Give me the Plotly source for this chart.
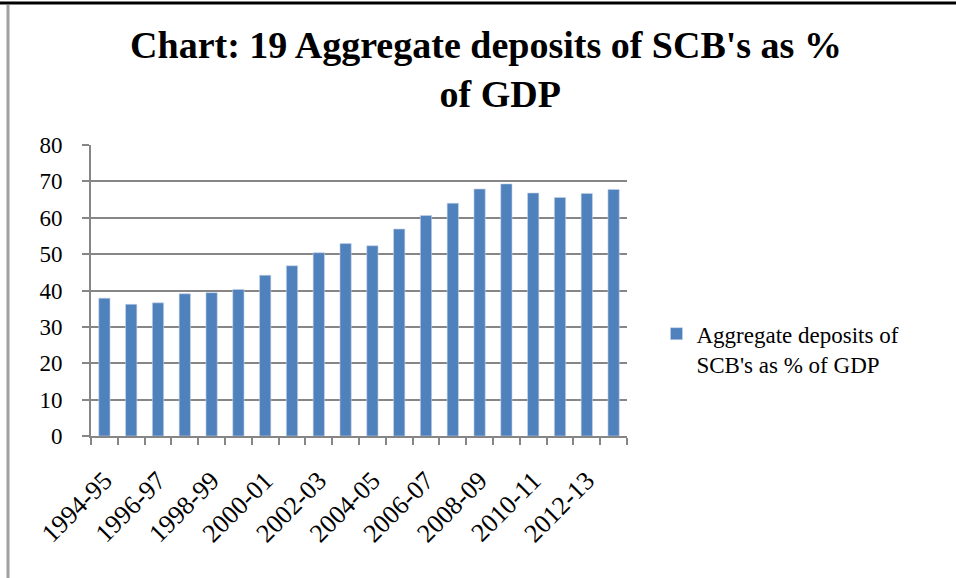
import plotly.graph_objects as go

# Aggregate deposits of scheduled commercial banks, % of GDP
years = ["1994-95", "1995-96", "1996-97", "1997-98", "1998-99", "1999-00",
         "2000-01", "2001-02", "2002-03", "2003-04", "2004-05", "2005-06",
         "2006-07", "2007-08", "2008-09", "2009-10", "2010-11", "2011-12",
         "2012-13", "2013-14"]
deposits = [37.9, 36.2, 36.6, 39.1, 39.4, 40.3, 44.2, 46.8, 50.4, 52.9,
            52.3, 56.9, 60.6, 64.0, 67.9, 69.3, 66.8, 65.6, 66.7, 67.8]
yticks = [0, 10, 20, 30, 40, 50, 60, 70, 80]

SERIF = "Liberation Serif, Times New Roman, serif"
GRID = "#868686"

pos = list(range(len(years)))
label_pos = pos[::2]
label_txt = years[::2]
bounds = [p - 0.5 for p in pos] + [pos[-1] + 0.5]

fig = go.Figure()
fig.add_trace(go.Bar(
    x=pos, y=deposits,
    name="Aggregate deposits of<br>SCB's as % of GDP",
    marker=dict(color="#4F81BD", line=dict(color="#C6D4E8", width=0.6)),
    width=0.42,
))

fig.update_layout(
    width=956, height=578,
    paper_bgcolor="white", plot_bgcolor="white",
    margin=dict(l=91, r=329, t=145, b=142),
    font=dict(family=SERIF, size=23, color="black"),
    title=dict(
        text="<b>Chart: 19 Aggregate deposits of SCB's as %<br>&nbsp;&nbsp;&nbsp;of GDP</b>",
        x=486 / 956, xanchor="center", y=1 - 58 / 578, yanchor="top",
        font=dict(family=SERIF, size=38, color="black"),
    ),
    showlegend=True,
    legend=dict(
        x=1.055, xanchor="left", y=0.30, yanchor="middle",
        valign="top", font=dict(size=23), itemwidth=30,
        bgcolor="rgba(0,0,0,0)",
    ),
    bargap=0.5,
)

fig.update_xaxes(
    range=[-0.5, len(years) - 0.5],
    tickmode="array", tickvals=label_pos, ticktext=label_txt,
    tickangle=-45, ticks="", showgrid=False, tickfont=dict(size=26),
    showline=True, linecolor=GRID, linewidth=2,
    minor=dict(tickmode="array", tickvals=bounds, ticks="outside",
               ticklen=7, tickcolor=GRID, tickwidth=2, showgrid=False),
    zeroline=False, ticklabelstandoff=17,
)
fig.update_yaxes(
    range=[0, 80], tickmode="array", tickvals=yticks,
    showgrid=True, gridcolor=GRID, gridwidth=2,
    ticks="outside", ticklen=7, tickcolor=GRID, tickwidth=2,
    showline=True, linecolor=GRID, linewidth=2,
    zeroline=False, ticklabelstandoff=15,
)

# page frame lines (black top edge, grey left edge)
fig.add_shape(type="line", xref="paper", yref="paper",
              x0=-91 / 536, x1=(956 - 91) / 536,
              y0=(436 - 3) / 291, y1=(436 - 3) / 291,
              line=dict(color="black", width=3))
fig.add_shape(type="line", xref="paper", yref="paper",
              x0=(8 - 91) / 536, x1=(8 - 91) / 536,
              y0=(436 - 5) / 291, y1=(436 - 578) / 291,
              line=dict(color="#A0A0A0", width=3))

# drop the default page margin so the figure sits at the window origin
fig.write_html("out.html", config={"displayModeBar": False},
               post_script="document.body.style.margin='0';")
